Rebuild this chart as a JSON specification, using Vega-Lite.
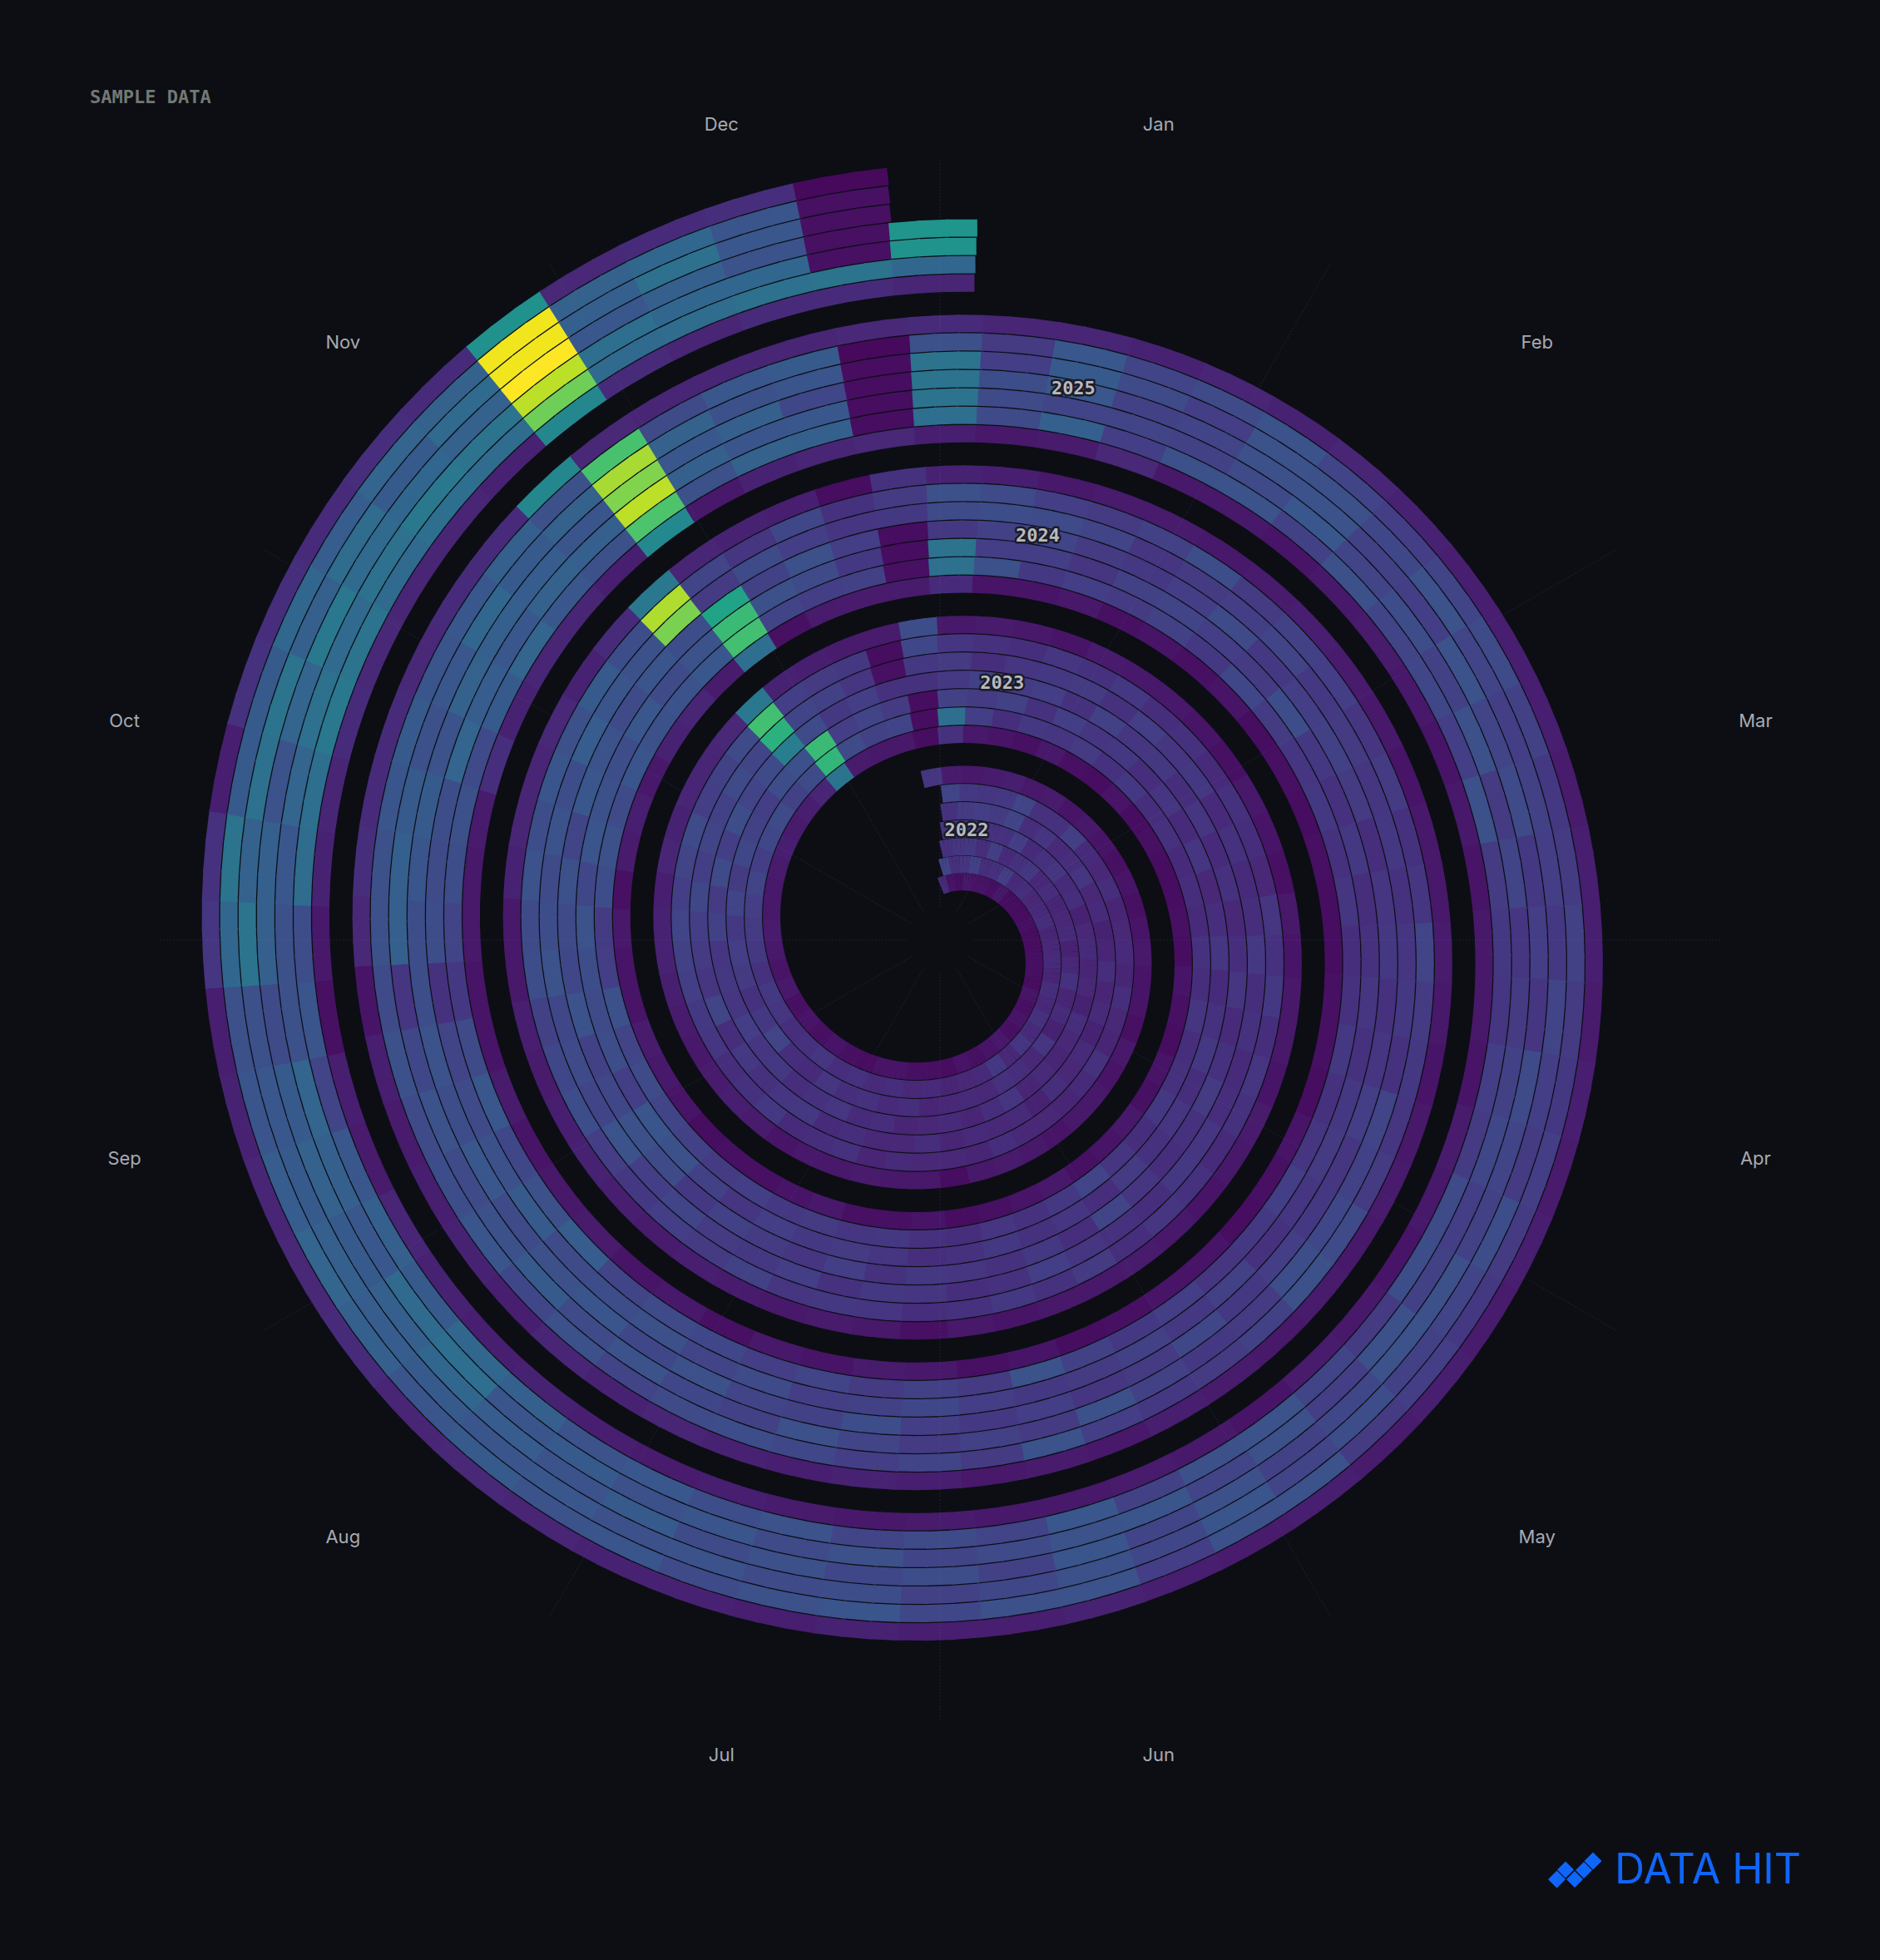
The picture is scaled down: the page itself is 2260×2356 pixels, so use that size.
{"$schema":"https://vega.github.io/schema/vega-lite/v6.json","width":2260,"height":2356,"padding":0,"autosize":"none","background":"#0c0e14","config":{"view":{"stroke":null}},
"layer":[
{"data":{"values":[
{"w":0,"d":6,"v":15},
{"w":1,"d":0,"v":12},{"w":1,"d":1,"v":20},{"w":1,"d":2,"v":14},{"w":1,"d":3,"v":15},{"w":1,"d":4,"v":14},{"w":1,"d":5,"v":20},{"w":1,"d":6,"v":7},
{"w":2,"d":0,"v":5},{"w":2,"d":1,"v":14},{"w":2,"d":2,"v":15},{"w":2,"d":3,"v":16},{"w":2,"d":4,"v":17},{"w":2,"d":5,"v":16},{"w":2,"d":6,"v":6},
{"w":3,"d":0,"v":4},{"w":3,"d":1,"v":15},{"w":3,"d":2,"v":16},{"w":3,"d":3,"v":17},{"w":3,"d":4,"v":18},{"w":3,"d":5,"v":15},{"w":3,"d":6,"v":7},
{"w":4,"d":0,"v":6},{"w":4,"d":1,"v":19},{"w":4,"d":2,"v":13},{"w":4,"d":3,"v":14},{"w":4,"d":4,"v":17},{"w":4,"d":5,"v":16},{"w":4,"d":6,"v":8},
{"w":5,"d":0,"v":5},{"w":5,"d":1,"v":13},{"w":5,"d":2,"v":18},{"w":5,"d":3,"v":14},{"w":5,"d":4,"v":20},{"w":5,"d":5,"v":20},{"w":5,"d":6,"v":6},
{"w":6,"d":0,"v":5},{"w":6,"d":1,"v":14},{"w":6,"d":2,"v":12},{"w":6,"d":3,"v":18},{"w":6,"d":4,"v":13},{"w":6,"d":5,"v":14},{"w":6,"d":6,"v":7},
{"w":7,"d":0,"v":4},{"w":7,"d":1,"v":18},{"w":7,"d":2,"v":14},{"w":7,"d":3,"v":12},{"w":7,"d":4,"v":15},{"w":7,"d":5,"v":14},{"w":7,"d":6,"v":5},
{"w":8,"d":0,"v":6},{"w":8,"d":1,"v":12},{"w":8,"d":2,"v":16},{"w":8,"d":3,"v":14},{"w":8,"d":4,"v":12},{"w":8,"d":5,"v":18},{"w":8,"d":6,"v":6},
{"w":9,"d":0,"v":3},{"w":9,"d":1,"v":13},{"w":9,"d":2,"v":11},{"w":9,"d":3,"v":15},{"w":9,"d":4,"v":13},{"w":9,"d":5,"v":12},{"w":9,"d":6,"v":5},
{"w":10,"d":0,"v":3},{"w":10,"d":1,"v":11},{"w":10,"d":2,"v":13},{"w":10,"d":3,"v":12},{"w":10,"d":4,"v":15},{"w":10,"d":5,"v":11},{"w":10,"d":6,"v":4},
{"w":11,"d":0,"v":3},{"w":11,"d":1,"v":12},{"w":11,"d":2,"v":10},{"w":11,"d":3,"v":13},{"w":11,"d":4,"v":11},{"w":11,"d":5,"v":13},{"w":11,"d":6,"v":5},
{"w":12,"d":0,"v":4},{"w":12,"d":1,"v":13},{"w":12,"d":2,"v":11},{"w":12,"d":3,"v":9},{"w":12,"d":4,"v":12},{"w":12,"d":5,"v":10},{"w":12,"d":6,"v":4},
{"w":13,"d":0,"v":3},{"w":13,"d":1,"v":10},{"w":13,"d":2,"v":12},{"w":13,"d":3,"v":11},{"w":13,"d":4,"v":9},{"w":13,"d":5,"v":11},{"w":13,"d":6,"v":5},
{"w":14,"d":0,"v":3},{"w":14,"d":1,"v":11},{"w":14,"d":2,"v":9},{"w":14,"d":3,"v":12},{"w":14,"d":4,"v":10},{"w":14,"d":5,"v":12},{"w":14,"d":6,"v":6},
{"w":15,"d":0,"v":4},{"w":15,"d":1,"v":12},{"w":15,"d":2,"v":11},{"w":15,"d":3,"v":10},{"w":15,"d":4,"v":13},{"w":15,"d":5,"v":10},{"w":15,"d":6,"v":5},
{"w":16,"d":0,"v":4},{"w":16,"d":1,"v":10},{"w":16,"d":2,"v":14},{"w":16,"d":3,"v":11},{"w":16,"d":4,"v":10},{"w":16,"d":5,"v":13},{"w":16,"d":6,"v":5},
{"w":17,"d":0,"v":3},{"w":17,"d":1,"v":13},{"w":17,"d":2,"v":10},{"w":17,"d":3,"v":9},{"w":17,"d":4,"v":12},{"w":17,"d":5,"v":11},{"w":17,"d":6,"v":4},
{"w":18,"d":0,"v":5},{"w":18,"d":1,"v":11},{"w":18,"d":2,"v":12},{"w":18,"d":3,"v":13},{"w":18,"d":4,"v":9},{"w":18,"d":5,"v":10},{"w":18,"d":6,"v":6},
{"w":19,"d":0,"v":4},{"w":19,"d":1,"v":14},{"w":19,"d":2,"v":9},{"w":19,"d":3,"v":11},{"w":19,"d":4,"v":12},{"w":19,"d":5,"v":14},{"w":19,"d":6,"v":5},
{"w":20,"d":0,"v":5},{"w":20,"d":1,"v":12},{"w":20,"d":2,"v":15},{"w":20,"d":3,"v":10},{"w":20,"d":4,"v":11},{"w":20,"d":5,"v":12},{"w":20,"d":6,"v":6},
{"w":21,"d":0,"v":4},{"w":21,"d":1,"v":15},{"w":21,"d":2,"v":11},{"w":21,"d":3,"v":12},{"w":21,"d":4,"v":13},{"w":21,"d":5,"v":10},{"w":21,"d":6,"v":6},
{"w":22,"d":0,"v":6},{"w":22,"d":1,"v":11},{"w":22,"d":2,"v":13},{"w":22,"d":3,"v":10},{"w":22,"d":4,"v":9},{"w":22,"d":5,"v":11},{"w":22,"d":6,"v":5},
{"w":23,"d":0,"v":5},{"w":23,"d":1,"v":16},{"w":23,"d":2,"v":14},{"w":23,"d":3,"v":15},{"w":23,"d":4,"v":12},{"w":23,"d":5,"v":11},{"w":23,"d":6,"v":6},
{"w":24,"d":0,"v":4},{"w":24,"d":1,"v":12},{"w":24,"d":2,"v":11},{"w":24,"d":3,"v":13},{"w":24,"d":4,"v":11},{"w":24,"d":5,"v":13},{"w":24,"d":6,"v":7},
{"w":25,"d":0,"v":5},{"w":25,"d":1,"v":11},{"w":25,"d":2,"v":12},{"w":25,"d":3,"v":10},{"w":25,"d":4,"v":12},{"w":25,"d":5,"v":10},{"w":25,"d":6,"v":6},
{"w":26,"d":0,"v":3},{"w":26,"d":1,"v":10},{"w":26,"d":2,"v":11},{"w":26,"d":3,"v":12},{"w":26,"d":4,"v":10},{"w":26,"d":5,"v":11},{"w":26,"d":6,"v":3},
{"w":27,"d":0,"v":4},{"w":27,"d":1,"v":12},{"w":27,"d":2,"v":10},{"w":27,"d":3,"v":11},{"w":27,"d":4,"v":13},{"w":27,"d":5,"v":11},{"w":27,"d":6,"v":6},
{"w":28,"d":0,"v":4},{"w":28,"d":1,"v":11},{"w":28,"d":2,"v":13},{"w":28,"d":3,"v":10},{"w":28,"d":4,"v":11},{"w":28,"d":5,"v":12},{"w":28,"d":6,"v":6},
{"w":29,"d":0,"v":5},{"w":29,"d":1,"v":13},{"w":29,"d":2,"v":12},{"w":29,"d":3,"v":13},{"w":29,"d":4,"v":11},{"w":29,"d":5,"v":10},{"w":29,"d":6,"v":7},
{"w":30,"d":0,"v":5},{"w":30,"d":1,"v":12},{"w":30,"d":2,"v":14},{"w":30,"d":3,"v":12},{"w":30,"d":4,"v":13},{"w":30,"d":5,"v":14},{"w":30,"d":6,"v":6},
{"w":31,"d":0,"v":3},{"w":31,"d":1,"v":14},{"w":31,"d":2,"v":13},{"w":31,"d":3,"v":15},{"w":31,"d":4,"v":12},{"w":31,"d":5,"v":13},{"w":31,"d":6,"v":6},
{"w":32,"d":0,"v":4},{"w":32,"d":1,"v":13},{"w":32,"d":2,"v":15},{"w":32,"d":3,"v":14},{"w":32,"d":4,"v":16},{"w":32,"d":5,"v":12},{"w":32,"d":6,"v":5},
{"w":33,"d":0,"v":5},{"w":33,"d":1,"v":15},{"w":33,"d":2,"v":12},{"w":33,"d":3,"v":13},{"w":33,"d":4,"v":15},{"w":33,"d":5,"v":16},{"w":33,"d":6,"v":7},
{"w":34,"d":0,"v":4},{"w":34,"d":1,"v":14},{"w":34,"d":2,"v":13},{"w":34,"d":3,"v":16},{"w":34,"d":4,"v":14},{"w":34,"d":5,"v":14},{"w":34,"d":6,"v":8},
{"w":35,"d":0,"v":5},{"w":35,"d":1,"v":13},{"w":35,"d":2,"v":20},{"w":35,"d":3,"v":15},{"w":35,"d":4,"v":16},{"w":35,"d":5,"v":13},{"w":35,"d":6,"v":7},
{"w":36,"d":0,"v":4},{"w":36,"d":1,"v":15},{"w":36,"d":2,"v":16},{"w":36,"d":3,"v":18},{"w":36,"d":4,"v":13},{"w":36,"d":5,"v":15},{"w":36,"d":6,"v":6},
{"w":37,"d":0,"v":6},{"w":37,"d":1,"v":16},{"w":37,"d":2,"v":14},{"w":37,"d":3,"v":15},{"w":37,"d":4,"v":20},{"w":37,"d":5,"v":16},{"w":37,"d":6,"v":7},
{"w":38,"d":0,"v":5},{"w":38,"d":1,"v":14},{"w":38,"d":2,"v":17},{"w":38,"d":3,"v":16},{"w":38,"d":4,"v":15},{"w":38,"d":5,"v":18},{"w":38,"d":6,"v":8},
{"w":39,"d":0,"v":6},{"w":39,"d":1,"v":16},{"w":39,"d":2,"v":18},{"w":39,"d":3,"v":15},{"w":39,"d":4,"v":17},{"w":39,"d":5,"v":19},{"w":39,"d":6,"v":9},
{"w":40,"d":0,"v":7},{"w":40,"d":1,"v":17},{"w":40,"d":2,"v":16},{"w":40,"d":3,"v":19},{"w":40,"d":4,"v":18},{"w":40,"d":5,"v":20},{"w":40,"d":6,"v":9},
{"w":41,"d":0,"v":6},{"w":41,"d":1,"v":18},{"w":41,"d":2,"v":20},{"w":41,"d":3,"v":17},{"w":41,"d":4,"v":21},{"w":41,"d":5,"v":18},{"w":41,"d":6,"v":8},
{"w":42,"d":0,"v":6},{"w":42,"d":1,"v":20},{"w":42,"d":2,"v":17},{"w":42,"d":3,"v":22},{"w":42,"d":4,"v":18},{"w":42,"d":5,"v":20},{"w":42,"d":6,"v":10},
{"w":43,"d":0,"v":7},{"w":43,"d":1,"v":18},{"w":43,"d":2,"v":21},{"w":43,"d":3,"v":18},{"w":43,"d":4,"v":20},{"w":43,"d":5,"v":22},{"w":43,"d":6,"v":9},
{"w":44,"d":0,"v":8},{"w":44,"d":1,"v":21},{"w":44,"d":2,"v":19},{"w":44,"d":3,"v":23},{"w":44,"d":4,"v":19},{"w":44,"d":5,"v":18},{"w":44,"d":6,"v":10},
{"w":45,"d":0,"v":7},{"w":45,"d":1,"v":22},{"w":45,"d":2,"v":18},{"w":45,"d":3,"v":20},{"w":45,"d":4,"v":22},{"w":45,"d":5,"v":19},{"w":45,"d":6,"v":10},
{"w":46,"d":0,"v":8},{"w":46,"d":1,"v":19},{"w":46,"d":2,"v":23},{"w":46,"d":3,"v":22},{"w":46,"d":4,"v":20},{"w":46,"d":5,"v":22},{"w":46,"d":6,"v":11},
{"w":47,"d":0,"v":10},{"w":47,"d":1,"v":22},{"w":47,"d":2,"v":24},{"w":47,"d":3,"v":42},{"w":47,"d":4,"v":64},{"w":47,"d":5,"v":70},{"w":47,"d":6,"v":40},
{"w":48,"d":0,"v":38},{"w":48,"d":1,"v":66},{"w":48,"d":2,"v":68},{"w":48,"d":3,"v":22},{"w":48,"d":4,"v":20},{"w":48,"d":5,"v":18},{"w":48,"d":6,"v":9},
{"w":49,"d":0,"v":7},{"w":49,"d":1,"v":22},{"w":49,"d":2,"v":18},{"w":49,"d":3,"v":16},{"w":49,"d":4,"v":19},{"w":49,"d":5,"v":17},{"w":49,"d":6,"v":8},
{"w":50,"d":0,"v":6},{"w":50,"d":1,"v":19},{"w":50,"d":2,"v":20},{"w":50,"d":3,"v":18},{"w":50,"d":4,"v":15},{"w":50,"d":5,"v":16},{"w":50,"d":6,"v":7},
{"w":51,"d":0,"v":6},{"w":51,"d":1,"v":20},{"w":51,"d":2,"v":17},{"w":51,"d":3,"v":14},{"w":51,"d":4,"v":4},{"w":51,"d":5,"v":3},{"w":51,"d":6,"v":7},
{"w":52,"d":0,"v":3},{"w":52,"d":1,"v":3},{"w":52,"d":2,"v":3},{"w":52,"d":3,"v":14},{"w":52,"d":4,"v":16},{"w":52,"d":5,"v":21},{"w":52,"d":6,"v":23},
{"w":53,"d":0,"v":14},{"w":53,"d":1,"v":36},{"w":53,"d":2,"v":19},{"w":53,"d":3,"v":16},{"w":53,"d":4,"v":17},{"w":53,"d":5,"v":15},{"w":53,"d":6,"v":6},
{"w":54,"d":0,"v":6},{"w":54,"d":1,"v":18},{"w":54,"d":2,"v":17},{"w":54,"d":3,"v":19},{"w":54,"d":4,"v":13},{"w":54,"d":5,"v":14},{"w":54,"d":6,"v":7},
{"w":55,"d":0,"v":5},{"w":55,"d":1,"v":13},{"w":55,"d":2,"v":19},{"w":55,"d":3,"v":17},{"w":55,"d":4,"v":15},{"w":55,"d":5,"v":13},{"w":55,"d":6,"v":6},
{"w":56,"d":0,"v":4},{"w":56,"d":1,"v":16},{"w":56,"d":2,"v":14},{"w":56,"d":3,"v":18},{"w":56,"d":4,"v":16},{"w":56,"d":5,"v":15},{"w":56,"d":6,"v":5},
{"w":57,"d":0,"v":6},{"w":57,"d":1,"v":15},{"w":57,"d":2,"v":18},{"w":57,"d":3,"v":14},{"w":57,"d":4,"v":17},{"w":57,"d":5,"v":14},{"w":57,"d":6,"v":7},
{"w":58,"d":0,"v":4},{"w":58,"d":1,"v":17},{"w":58,"d":2,"v":15},{"w":58,"d":3,"v":19},{"w":58,"d":4,"v":14},{"w":58,"d":5,"v":16},{"w":58,"d":6,"v":6},
{"w":59,"d":0,"v":3},{"w":59,"d":1,"v":14},{"w":59,"d":2,"v":16},{"w":59,"d":3,"v":15},{"w":59,"d":4,"v":18},{"w":59,"d":5,"v":13},{"w":59,"d":6,"v":6},
{"w":60,"d":0,"v":5},{"w":60,"d":1,"v":16},{"w":60,"d":2,"v":13},{"w":60,"d":3,"v":16},{"w":60,"d":4,"v":15},{"w":60,"d":5,"v":14},{"w":60,"d":6,"v":5},
{"w":61,"d":0,"v":3},{"w":61,"d":1,"v":13},{"w":61,"d":2,"v":15},{"w":61,"d":3,"v":13},{"w":61,"d":4,"v":16},{"w":61,"d":5,"v":12},{"w":61,"d":6,"v":4},
{"w":62,"d":0,"v":4},{"w":62,"d":1,"v":14},{"w":62,"d":2,"v":12},{"w":62,"d":3,"v":15},{"w":62,"d":4,"v":12},{"w":62,"d":5,"v":14},{"w":62,"d":6,"v":6},
{"w":63,"d":0,"v":3},{"w":63,"d":1,"v":12},{"w":63,"d":2,"v":15},{"w":63,"d":3,"v":12},{"w":63,"d":4,"v":14},{"w":63,"d":5,"v":13},{"w":63,"d":6,"v":5},
{"w":64,"d":0,"v":3},{"w":64,"d":1,"v":13},{"w":64,"d":2,"v":11},{"w":64,"d":3,"v":14},{"w":64,"d":4,"v":12},{"w":64,"d":5,"v":11},{"w":64,"d":6,"v":4},
{"w":65,"d":0,"v":4},{"w":65,"d":1,"v":12},{"w":65,"d":2,"v":13},{"w":65,"d":3,"v":11},{"w":65,"d":4,"v":13},{"w":65,"d":5,"v":15},{"w":65,"d":6,"v":6},
{"w":66,"d":0,"v":3},{"w":66,"d":1,"v":14},{"w":66,"d":2,"v":15},{"w":66,"d":3,"v":13},{"w":66,"d":4,"v":16},{"w":66,"d":5,"v":14},{"w":66,"d":6,"v":5},
{"w":67,"d":0,"v":5},{"w":67,"d":1,"v":13},{"w":67,"d":2,"v":12},{"w":67,"d":3,"v":15},{"w":67,"d":4,"v":13},{"w":67,"d":5,"v":16},{"w":67,"d":6,"v":6},
{"w":68,"d":0,"v":4},{"w":68,"d":1,"v":15},{"w":68,"d":2,"v":14},{"w":68,"d":3,"v":12},{"w":68,"d":4,"v":14},{"w":68,"d":5,"v":13},{"w":68,"d":6,"v":6},
{"w":69,"d":0,"v":3},{"w":69,"d":1,"v":13},{"w":69,"d":2,"v":16},{"w":69,"d":3,"v":14},{"w":69,"d":4,"v":12},{"w":69,"d":5,"v":15},{"w":69,"d":6,"v":5},
{"w":70,"d":0,"v":5},{"w":70,"d":1,"v":14},{"w":70,"d":2,"v":13},{"w":70,"d":3,"v":17},{"w":70,"d":4,"v":13},{"w":70,"d":5,"v":14},{"w":70,"d":6,"v":7},
{"w":71,"d":0,"v":4},{"w":71,"d":1,"v":16},{"w":71,"d":2,"v":15},{"w":71,"d":3,"v":14},{"w":71,"d":4,"v":15},{"w":71,"d":5,"v":12},{"w":71,"d":6,"v":6},
{"w":72,"d":0,"v":6},{"w":72,"d":1,"v":13},{"w":72,"d":2,"v":14},{"w":72,"d":3,"v":13},{"w":72,"d":4,"v":16},{"w":72,"d":5,"v":14},{"w":72,"d":6,"v":5},
{"w":73,"d":0,"v":5},{"w":73,"d":1,"v":15},{"w":73,"d":2,"v":17},{"w":73,"d":3,"v":15},{"w":73,"d":4,"v":13},{"w":73,"d":5,"v":15},{"w":73,"d":6,"v":6},
{"w":74,"d":0,"v":4},{"w":74,"d":1,"v":20},{"w":74,"d":2,"v":13},{"w":74,"d":3,"v":20},{"w":74,"d":4,"v":14},{"w":74,"d":5,"v":13},{"w":74,"d":6,"v":7},
{"w":75,"d":0,"v":6},{"w":75,"d":1,"v":16},{"w":75,"d":2,"v":15},{"w":75,"d":3,"v":13},{"w":75,"d":4,"v":15},{"w":75,"d":5,"v":17},{"w":75,"d":6,"v":6},
{"w":76,"d":0,"v":5},{"w":76,"d":1,"v":14},{"w":76,"d":2,"v":14},{"w":76,"d":3,"v":16},{"w":76,"d":4,"v":18},{"w":76,"d":5,"v":14},{"w":76,"d":6,"v":6},
{"w":77,"d":0,"v":4},{"w":77,"d":1,"v":15},{"w":77,"d":2,"v":16},{"w":77,"d":3,"v":14},{"w":77,"d":4,"v":14},{"w":77,"d":5,"v":16},{"w":77,"d":6,"v":5},
{"w":78,"d":0,"v":3},{"w":78,"d":1,"v":13},{"w":78,"d":2,"v":14},{"w":78,"d":3,"v":15},{"w":78,"d":4,"v":13},{"w":78,"d":5,"v":14},{"w":78,"d":6,"v":6},
{"w":79,"d":0,"v":5},{"w":79,"d":1,"v":14},{"w":79,"d":2,"v":13},{"w":79,"d":3,"v":16},{"w":79,"d":4,"v":15},{"w":79,"d":5,"v":13},{"w":79,"d":6,"v":4},
{"w":80,"d":0,"v":4},{"w":80,"d":1,"v":16},{"w":80,"d":2,"v":15},{"w":80,"d":3,"v":14},{"w":80,"d":4,"v":16},{"w":80,"d":5,"v":15},{"w":80,"d":6,"v":6},
{"w":81,"d":0,"v":4},{"w":81,"d":1,"v":15},{"w":81,"d":2,"v":17},{"w":81,"d":3,"v":18},{"w":81,"d":4,"v":14},{"w":81,"d":5,"v":16},{"w":81,"d":6,"v":7},
{"w":82,"d":0,"v":6},{"w":82,"d":1,"v":17},{"w":82,"d":2,"v":16},{"w":82,"d":3,"v":15},{"w":82,"d":4,"v":18},{"w":82,"d":5,"v":15},{"w":82,"d":6,"v":6},
{"w":83,"d":0,"v":5},{"w":83,"d":1,"v":16},{"w":83,"d":2,"v":18},{"w":83,"d":3,"v":17},{"w":83,"d":4,"v":16},{"w":83,"d":5,"v":19},{"w":83,"d":6,"v":7},
{"w":84,"d":0,"v":4},{"w":84,"d":1,"v":18},{"w":84,"d":2,"v":15},{"w":84,"d":3,"v":19},{"w":84,"d":4,"v":17},{"w":84,"d":5,"v":17},{"w":84,"d":6,"v":8},
{"w":85,"d":0,"v":4},{"w":85,"d":1,"v":17},{"w":85,"d":2,"v":19},{"w":85,"d":3,"v":16},{"w":85,"d":4,"v":20},{"w":85,"d":5,"v":18},{"w":85,"d":6,"v":7},
{"w":86,"d":0,"v":3},{"w":86,"d":1,"v":19},{"w":86,"d":2,"v":24},{"w":86,"d":3,"v":22},{"w":86,"d":4,"v":18},{"w":86,"d":5,"v":16},{"w":86,"d":6,"v":8},
{"w":87,"d":0,"v":5},{"w":87,"d":1,"v":20},{"w":87,"d":2,"v":26},{"w":87,"d":3,"v":24},{"w":87,"d":4,"v":25},{"w":87,"d":5,"v":18},{"w":87,"d":6,"v":9},
{"w":88,"d":0,"v":6},{"w":88,"d":1,"v":22},{"w":88,"d":2,"v":18},{"w":88,"d":3,"v":21},{"w":88,"d":4,"v":20},{"w":88,"d":5,"v":23},{"w":88,"d":6,"v":8},
{"w":89,"d":0,"v":7},{"w":89,"d":1,"v":20},{"w":89,"d":2,"v":23},{"w":89,"d":3,"v":19},{"w":89,"d":4,"v":22},{"w":89,"d":5,"v":21},{"w":89,"d":6,"v":7},
{"w":90,"d":0,"v":5},{"w":90,"d":1,"v":24},{"w":90,"d":2,"v":22},{"w":90,"d":3,"v":25},{"w":90,"d":4,"v":21},{"w":90,"d":5,"v":19},{"w":90,"d":6,"v":8},
{"w":91,"d":0,"v":5},{"w":91,"d":1,"v":18},{"w":91,"d":2,"v":23},{"w":91,"d":3,"v":21},{"w":91,"d":4,"v":25},{"w":91,"d":5,"v":23},{"w":91,"d":6,"v":6},
{"w":92,"d":0,"v":6},{"w":92,"d":1,"v":17},{"w":92,"d":2,"v":25},{"w":92,"d":3,"v":22},{"w":92,"d":4,"v":23},{"w":92,"d":5,"v":22},{"w":92,"d":6,"v":6},
{"w":93,"d":0,"v":4},{"w":93,"d":1,"v":23},{"w":93,"d":2,"v":21},{"w":93,"d":3,"v":24},{"w":93,"d":4,"v":22},{"w":93,"d":5,"v":25},{"w":93,"d":6,"v":9},
{"w":94,"d":0,"v":7},{"w":94,"d":1,"v":24},{"w":94,"d":2,"v":26},{"w":94,"d":3,"v":20},{"w":94,"d":4,"v":25},{"w":94,"d":5,"v":23},{"w":94,"d":6,"v":10},
{"w":95,"d":0,"v":8},{"w":95,"d":1,"v":22},{"w":95,"d":2,"v":24},{"w":95,"d":3,"v":27},{"w":95,"d":4,"v":23},{"w":95,"d":5,"v":26},{"w":95,"d":6,"v":10},
{"w":96,"d":0,"v":6},{"w":96,"d":1,"v":26},{"w":96,"d":2,"v":23},{"w":96,"d":3,"v":25},{"w":96,"d":4,"v":29},{"w":96,"d":5,"v":24},{"w":96,"d":6,"v":11},
{"w":97,"d":0,"v":9},{"w":97,"d":1,"v":24},{"w":97,"d":2,"v":27},{"w":97,"d":3,"v":22},{"w":97,"d":4,"v":26},{"w":97,"d":5,"v":28},{"w":97,"d":6,"v":9},
{"w":98,"d":0,"v":10},{"w":98,"d":1,"v":25},{"w":98,"d":2,"v":22},{"w":98,"d":3,"v":26},{"w":98,"d":4,"v":24},{"w":98,"d":5,"v":23},{"w":98,"d":6,"v":12},
{"w":99,"d":0,"v":7},{"w":99,"d":1,"v":27},{"w":99,"d":2,"v":25},{"w":99,"d":3,"v":23},{"w":99,"d":4,"v":80},{"w":99,"d":5,"v":88},{"w":99,"d":6,"v":40},
{"w":100,"d":0,"v":36},{"w":100,"d":1,"v":70},{"w":100,"d":2,"v":68},{"w":100,"d":3,"v":58},{"w":100,"d":4,"v":17},{"w":100,"d":5,"v":20},{"w":100,"d":6,"v":10},
{"w":101,"d":0,"v":4},{"w":101,"d":1,"v":20},{"w":101,"d":2,"v":24},{"w":101,"d":3,"v":19},{"w":101,"d":4,"v":22},{"w":101,"d":5,"v":15},{"w":101,"d":6,"v":9},
{"w":102,"d":0,"v":7},{"w":102,"d":1,"v":18},{"w":102,"d":2,"v":22},{"w":102,"d":3,"v":24},{"w":102,"d":4,"v":18},{"w":102,"d":5,"v":21},{"w":102,"d":6,"v":8},
{"w":103,"d":0,"v":7},{"w":103,"d":1,"v":19},{"w":103,"d":2,"v":16},{"w":103,"d":3,"v":18},{"w":103,"d":4,"v":15},{"w":103,"d":5,"v":14},{"w":103,"d":6,"v":3},
{"w":104,"d":0,"v":7},{"w":104,"d":1,"v":4},{"w":104,"d":2,"v":3},{"w":104,"d":3,"v":3},{"w":104,"d":4,"v":16},{"w":104,"d":5,"v":17},{"w":104,"d":6,"v":14},
{"w":105,"d":0,"v":12},{"w":105,"d":1,"v":37},{"w":105,"d":2,"v":38},{"w":105,"d":3,"v":16},{"w":105,"d":4,"v":22},{"w":105,"d":5,"v":24},{"w":105,"d":6,"v":9},
{"w":106,"d":0,"v":5},{"w":106,"d":1,"v":24},{"w":106,"d":2,"v":18},{"w":106,"d":3,"v":19},{"w":106,"d":4,"v":23},{"w":106,"d":5,"v":22},{"w":106,"d":6,"v":8},
{"w":107,"d":0,"v":5},{"w":107,"d":1,"v":16},{"w":107,"d":2,"v":18},{"w":107,"d":3,"v":20},{"w":107,"d":4,"v":22},{"w":107,"d":5,"v":18},{"w":107,"d":6,"v":6},
{"w":108,"d":0,"v":6},{"w":108,"d":1,"v":18},{"w":108,"d":2,"v":15},{"w":108,"d":3,"v":17},{"w":108,"d":4,"v":20},{"w":108,"d":5,"v":17},{"w":108,"d":6,"v":7},
{"w":109,"d":0,"v":4},{"w":109,"d":1,"v":17},{"w":109,"d":2,"v":19},{"w":109,"d":3,"v":16},{"w":109,"d":4,"v":15},{"w":109,"d":5,"v":19},{"w":109,"d":6,"v":7},
{"w":110,"d":0,"v":5},{"w":110,"d":1,"v":19},{"w":110,"d":2,"v":20},{"w":110,"d":3,"v":18},{"w":110,"d":4,"v":17},{"w":110,"d":5,"v":23},{"w":110,"d":6,"v":6},
{"w":111,"d":0,"v":4},{"w":111,"d":1,"v":16},{"w":111,"d":2,"v":18},{"w":111,"d":3,"v":22},{"w":111,"d":4,"v":18},{"w":111,"d":5,"v":17},{"w":111,"d":6,"v":7},
{"w":112,"d":0,"v":5},{"w":112,"d":1,"v":21},{"w":112,"d":2,"v":17},{"w":112,"d":3,"v":16},{"w":112,"d":4,"v":20},{"w":112,"d":5,"v":19},{"w":112,"d":6,"v":8},
{"w":113,"d":0,"v":3},{"w":113,"d":1,"v":17},{"w":113,"d":2,"v":23},{"w":113,"d":3,"v":18},{"w":113,"d":4,"v":16},{"w":113,"d":5,"v":18},{"w":113,"d":6,"v":7},
{"w":114,"d":0,"v":4},{"w":114,"d":1,"v":15},{"w":114,"d":2,"v":16},{"w":114,"d":3,"v":19},{"w":114,"d":4,"v":17},{"w":114,"d":5,"v":15},{"w":114,"d":6,"v":6},
{"w":115,"d":0,"v":3},{"w":115,"d":1,"v":16},{"w":115,"d":2,"v":14},{"w":115,"d":3,"v":17},{"w":115,"d":4,"v":15},{"w":115,"d":5,"v":17},{"w":115,"d":6,"v":5},
{"w":116,"d":0,"v":4},{"w":116,"d":1,"v":14},{"w":116,"d":2,"v":16},{"w":116,"d":3,"v":13},{"w":116,"d":4,"v":16},{"w":116,"d":5,"v":14},{"w":116,"d":6,"v":6},
{"w":117,"d":0,"v":3},{"w":117,"d":1,"v":15},{"w":117,"d":2,"v":13},{"w":117,"d":3,"v":15},{"w":117,"d":4,"v":14},{"w":117,"d":5,"v":15},{"w":117,"d":6,"v":6},
{"w":118,"d":0,"v":3},{"w":118,"d":1,"v":13},{"w":118,"d":2,"v":14},{"w":118,"d":3,"v":16},{"w":118,"d":4,"v":15},{"w":118,"d":5,"v":20},{"w":118,"d":6,"v":7},
{"w":119,"d":0,"v":4},{"w":119,"d":1,"v":14},{"w":119,"d":2,"v":15},{"w":119,"d":3,"v":14},{"w":119,"d":4,"v":16},{"w":119,"d":5,"v":17},{"w":119,"d":6,"v":6},
{"w":120,"d":0,"v":4},{"w":120,"d":1,"v":16},{"w":120,"d":2,"v":14},{"w":120,"d":3,"v":15},{"w":120,"d":4,"v":14},{"w":120,"d":5,"v":16},{"w":120,"d":6,"v":5},
{"w":121,"d":0,"v":3},{"w":121,"d":1,"v":14},{"w":121,"d":2,"v":16},{"w":121,"d":3,"v":18},{"w":121,"d":4,"v":20},{"w":121,"d":5,"v":15},{"w":121,"d":6,"v":6},
{"w":122,"d":0,"v":5},{"w":122,"d":1,"v":15},{"w":122,"d":2,"v":17},{"w":122,"d":3,"v":15},{"w":122,"d":4,"v":19},{"w":122,"d":5,"v":17},{"w":122,"d":6,"v":7},
{"w":123,"d":0,"v":4},{"w":123,"d":1,"v":18},{"w":123,"d":2,"v":15},{"w":123,"d":3,"v":16},{"w":123,"d":4,"v":21},{"w":123,"d":5,"v":22},{"w":123,"d":6,"v":6},
{"w":124,"d":0,"v":3},{"w":124,"d":1,"v":16},{"w":124,"d":2,"v":14},{"w":124,"d":3,"v":18},{"w":124,"d":4,"v":23},{"w":124,"d":5,"v":24},{"w":124,"d":6,"v":7},
{"w":125,"d":0,"v":5},{"w":125,"d":1,"v":15},{"w":125,"d":2,"v":19},{"w":125,"d":3,"v":16},{"w":125,"d":4,"v":17},{"w":125,"d":5,"v":19},{"w":125,"d":6,"v":6},
{"w":126,"d":0,"v":5},{"w":126,"d":1,"v":18},{"w":126,"d":2,"v":16},{"w":126,"d":3,"v":21},{"w":126,"d":4,"v":16},{"w":126,"d":5,"v":17},{"w":126,"d":6,"v":7},
{"w":127,"d":0,"v":4},{"w":127,"d":1,"v":16},{"w":127,"d":2,"v":19},{"w":127,"d":3,"v":17},{"w":127,"d":4,"v":19},{"w":127,"d":5,"v":16},{"w":127,"d":6,"v":8},
{"w":128,"d":0,"v":3},{"w":128,"d":1,"v":19},{"w":128,"d":2,"v":17},{"w":128,"d":3,"v":15},{"w":128,"d":4,"v":24},{"w":128,"d":5,"v":18},{"w":128,"d":6,"v":6},
{"w":129,"d":0,"v":5},{"w":129,"d":1,"v":25},{"w":129,"d":2,"v":16},{"w":129,"d":3,"v":18},{"w":129,"d":4,"v":17},{"w":129,"d":5,"v":25},{"w":129,"d":6,"v":7},
{"w":130,"d":0,"v":4},{"w":130,"d":1,"v":17},{"w":130,"d":2,"v":18},{"w":130,"d":3,"v":16},{"w":130,"d":4,"v":19},{"w":130,"d":5,"v":17},{"w":130,"d":6,"v":6},
{"w":131,"d":0,"v":6},{"w":131,"d":1,"v":19},{"w":131,"d":2,"v":21},{"w":131,"d":3,"v":18},{"w":131,"d":4,"v":17},{"w":131,"d":5,"v":20},{"w":131,"d":6,"v":8},
{"w":132,"d":0,"v":7},{"w":132,"d":1,"v":17},{"w":132,"d":2,"v":19},{"w":132,"d":3,"v":23},{"w":132,"d":4,"v":20},{"w":132,"d":5,"v":18},{"w":132,"d":6,"v":9},
{"w":133,"d":0,"v":5},{"w":133,"d":1,"v":20},{"w":133,"d":2,"v":18},{"w":133,"d":3,"v":19},{"w":133,"d":4,"v":24},{"w":133,"d":5,"v":21},{"w":133,"d":6,"v":8},
{"w":134,"d":0,"v":6},{"w":134,"d":1,"v":18},{"w":134,"d":2,"v":22},{"w":134,"d":3,"v":20},{"w":134,"d":4,"v":19},{"w":134,"d":5,"v":23},{"w":134,"d":6,"v":9},
{"w":135,"d":0,"v":4},{"w":135,"d":1,"v":21},{"w":135,"d":2,"v":20},{"w":135,"d":3,"v":24},{"w":135,"d":4,"v":21},{"w":135,"d":5,"v":22},{"w":135,"d":6,"v":10},
{"w":136,"d":0,"v":6},{"w":136,"d":1,"v":22},{"w":136,"d":2,"v":24},{"w":136,"d":3,"v":21},{"w":136,"d":4,"v":25},{"w":136,"d":5,"v":20},{"w":136,"d":6,"v":9},
{"w":137,"d":0,"v":5},{"w":137,"d":1,"v":20},{"w":137,"d":2,"v":23},{"w":137,"d":3,"v":26},{"w":137,"d":4,"v":22},{"w":137,"d":5,"v":24},{"w":137,"d":6,"v":10},
{"w":138,"d":0,"v":7},{"w":138,"d":1,"v":29},{"w":138,"d":2,"v":22},{"w":138,"d":3,"v":24},{"w":138,"d":4,"v":28},{"w":138,"d":5,"v":21},{"w":138,"d":6,"v":8},
{"w":139,"d":0,"v":6},{"w":139,"d":1,"v":24},{"w":139,"d":2,"v":28},{"w":139,"d":3,"v":22},{"w":139,"d":4,"v":24},{"w":139,"d":5,"v":26},{"w":139,"d":6,"v":9},
{"w":140,"d":0,"v":5},{"w":140,"d":1,"v":21},{"w":140,"d":2,"v":24},{"w":140,"d":3,"v":27},{"w":140,"d":4,"v":22},{"w":140,"d":5,"v":23},{"w":140,"d":6,"v":8},
{"w":141,"d":0,"v":7},{"w":141,"d":1,"v":27},{"w":141,"d":2,"v":22},{"w":141,"d":3,"v":23},{"w":141,"d":4,"v":25},{"w":141,"d":5,"v":22},{"w":141,"d":6,"v":7},
{"w":142,"d":0,"v":5},{"w":142,"d":1,"v":22},{"w":142,"d":2,"v":20},{"w":142,"d":3,"v":25},{"w":142,"d":4,"v":21},{"w":142,"d":5,"v":24},{"w":142,"d":6,"v":8},
{"w":143,"d":0,"v":5},{"w":143,"d":1,"v":16},{"w":143,"d":2,"v":14},{"w":143,"d":3,"v":23},{"w":143,"d":4,"v":15},{"w":143,"d":5,"v":22},{"w":143,"d":6,"v":5},
{"w":144,"d":0,"v":6},{"w":144,"d":1,"v":20},{"w":144,"d":2,"v":23},{"w":144,"d":3,"v":23},{"w":144,"d":4,"v":30},{"w":144,"d":5,"v":24},{"w":144,"d":6,"v":11},
{"w":145,"d":0,"v":6},{"w":145,"d":1,"v":23},{"w":145,"d":2,"v":22},{"w":145,"d":3,"v":26},{"w":145,"d":4,"v":30},{"w":145,"d":5,"v":24},{"w":145,"d":6,"v":13},
{"w":146,"d":0,"v":7},{"w":146,"d":1,"v":24},{"w":146,"d":2,"v":23},{"w":146,"d":3,"v":28},{"w":146,"d":4,"v":28},{"w":146,"d":5,"v":26},{"w":146,"d":6,"v":12},
{"w":147,"d":0,"v":13},{"w":147,"d":1,"v":22},{"w":147,"d":2,"v":32},{"w":147,"d":3,"v":25},{"w":147,"d":4,"v":24},{"w":147,"d":5,"v":28},{"w":147,"d":6,"v":12},
{"w":148,"d":0,"v":9},{"w":148,"d":1,"v":28},{"w":148,"d":2,"v":29},{"w":148,"d":3,"v":31},{"w":148,"d":4,"v":27},{"w":148,"d":5,"v":26},{"w":148,"d":6,"v":11},
{"w":149,"d":0,"v":10},{"w":149,"d":1,"v":32},{"w":149,"d":2,"v":27},{"w":149,"d":3,"v":30},{"w":149,"d":4,"v":33},{"w":149,"d":5,"v":27},{"w":149,"d":6,"v":12},
{"w":150,"d":0,"v":10},{"w":150,"d":1,"v":27},{"w":150,"d":2,"v":31},{"w":150,"d":3,"v":29},{"w":150,"d":4,"v":28},{"w":150,"d":5,"v":30},{"w":150,"d":6,"v":12},
{"w":151,"d":0,"v":8},{"w":151,"d":1,"v":24},{"w":151,"d":2,"v":30},{"w":151,"d":3,"v":26},{"w":151,"d":4,"v":31},{"w":151,"d":5,"v":24},{"w":151,"d":6,"v":46},
{"w":152,"d":0,"v":47},{"w":152,"d":1,"v":72},{"w":152,"d":2,"v":90},{"w":152,"d":3,"v":81},{"w":152,"d":4,"v":87},{"w":152,"d":5,"v":71},{"w":152,"d":6,"v":11},
{"w":153,"d":0,"v":6},{"w":153,"d":1,"v":24},{"w":153,"d":2,"v":30},{"w":153,"d":3,"v":27},{"w":153,"d":4,"v":31},{"w":153,"d":5,"v":22},{"w":153,"d":6,"v":10},
{"w":154,"d":0,"v":9},{"w":154,"d":1,"v":31},{"w":154,"d":2,"v":26},{"w":154,"d":3,"v":30},{"w":154,"d":4,"v":24},{"w":154,"d":5,"v":27},{"w":154,"d":6,"v":10},
{"w":155,"d":0,"v":10},{"w":155,"d":1,"v":30},{"w":155,"d":2,"v":27},{"w":155,"d":3,"v":21},{"w":155,"d":4,"v":26},{"w":155,"d":5,"v":28},{"w":155,"d":6,"v":10},
{"w":156,"d":0,"v":11},{"w":156,"d":1,"v":3},{"w":156,"d":2,"v":3},{"w":156,"d":3,"v":3},{"w":156,"d":4,"v":3},{"w":156,"d":5,"v":2},{"w":156,"d":6,"v":11},
{"w":157,"d":0,"v":8},{"w":157,"d":1,"v":36},{"w":157,"d":2,"v":38},{"w":157,"d":3,"v":38},{"w":157,"d":4,"v":38},{"w":157,"d":5,"v":24},{"w":157,"d":6,"v":12},
{"w":158,"d":0,"v":6},{"w":158,"d":1,"v":22},{"w":158,"d":2,"v":22},{"w":158,"d":3,"v":23},{"w":158,"d":4,"v":18},{"w":158,"d":5,"v":17},{"w":158,"d":6,"v":10},
{"w":159,"d":0,"v":7},{"w":159,"d":1,"v":30},{"w":159,"d":2,"v":20},{"w":159,"d":3,"v":27},{"w":159,"d":4,"v":28},{"w":159,"d":5,"v":27},{"w":159,"d":6,"v":10},
{"w":160,"d":0,"v":11},{"w":160,"d":1,"v":18},{"w":160,"d":2,"v":20},{"w":160,"d":3,"v":19},{"w":160,"d":4,"v":22},{"w":160,"d":5,"v":20},{"w":160,"d":6,"v":9},
{"w":161,"d":0,"v":6},{"w":161,"d":1,"v":24},{"w":161,"d":2,"v":19},{"w":161,"d":3,"v":20},{"w":161,"d":4,"v":18},{"w":161,"d":5,"v":22},{"w":161,"d":6,"v":10},
{"w":162,"d":0,"v":6},{"w":162,"d":1,"v":25},{"w":162,"d":2,"v":22},{"w":162,"d":3,"v":24},{"w":162,"d":4,"v":25},{"w":162,"d":5,"v":25},{"w":162,"d":6,"v":9},
{"w":163,"d":0,"v":5},{"w":163,"d":1,"v":19},{"w":163,"d":2,"v":27},{"w":163,"d":3,"v":25},{"w":163,"d":4,"v":24},{"w":163,"d":5,"v":20},{"w":163,"d":6,"v":10},
{"w":164,"d":0,"v":6},{"w":164,"d":1,"v":24},{"w":164,"d":2,"v":20},{"w":164,"d":3,"v":19},{"w":164,"d":4,"v":21},{"w":164,"d":5,"v":18},{"w":164,"d":6,"v":9},
{"w":165,"d":0,"v":7},{"w":165,"d":1,"v":20},{"w":165,"d":2,"v":23},{"w":165,"d":3,"v":18},{"w":165,"d":4,"v":25},{"w":165,"d":5,"v":20},{"w":165,"d":6,"v":8},
{"w":166,"d":0,"v":6},{"w":166,"d":1,"v":21},{"w":166,"d":2,"v":19},{"w":166,"d":3,"v":25},{"w":166,"d":4,"v":20},{"w":166,"d":5,"v":22},{"w":166,"d":6,"v":8},
{"w":167,"d":0,"v":5},{"w":167,"d":1,"v":18},{"w":167,"d":2,"v":24},{"w":167,"d":3,"v":20},{"w":167,"d":4,"v":18},{"w":167,"d":5,"v":19},{"w":167,"d":6,"v":8},
{"w":168,"d":0,"v":6},{"w":168,"d":1,"v":24},{"w":168,"d":2,"v":17},{"w":168,"d":3,"v":22},{"w":168,"d":4,"v":19},{"w":168,"d":5,"v":16},{"w":168,"d":6,"v":7},
{"w":169,"d":0,"v":5},{"w":169,"d":1,"v":17},{"w":169,"d":2,"v":20},{"w":169,"d":3,"v":16},{"w":169,"d":4,"v":18},{"w":169,"d":5,"v":17},{"w":169,"d":6,"v":8},
{"w":170,"d":0,"v":6},{"w":170,"d":1,"v":16},{"w":170,"d":2,"v":15},{"w":170,"d":3,"v":18},{"w":170,"d":4,"v":16},{"w":170,"d":5,"v":19},{"w":170,"d":6,"v":8},
{"w":171,"d":0,"v":6},{"w":171,"d":1,"v":15},{"w":171,"d":2,"v":17},{"w":171,"d":3,"v":15},{"w":171,"d":4,"v":20},{"w":171,"d":5,"v":17},{"w":171,"d":6,"v":7},
{"w":172,"d":0,"v":5},{"w":172,"d":1,"v":18},{"w":172,"d":2,"v":19},{"w":172,"d":3,"v":22},{"w":172,"d":4,"v":18},{"w":172,"d":5,"v":16},{"w":172,"d":6,"v":8},
{"w":173,"d":0,"v":7},{"w":173,"d":1,"v":17},{"w":173,"d":2,"v":21},{"w":173,"d":3,"v":20},{"w":173,"d":4,"v":17},{"w":173,"d":5,"v":18},{"w":173,"d":6,"v":7},
{"w":174,"d":0,"v":6},{"w":174,"d":1,"v":22},{"w":174,"d":2,"v":18},{"w":174,"d":3,"v":19},{"w":174,"d":4,"v":23},{"w":174,"d":5,"v":17},{"w":174,"d":6,"v":8},
{"w":175,"d":0,"v":5},{"w":175,"d":1,"v":23},{"w":175,"d":2,"v":19},{"w":175,"d":3,"v":24},{"w":175,"d":4,"v":20},{"w":175,"d":5,"v":16},{"w":175,"d":6,"v":7},
{"w":176,"d":0,"v":6},{"w":176,"d":1,"v":17},{"w":176,"d":2,"v":24},{"w":176,"d":3,"v":25},{"w":176,"d":4,"v":19},{"w":176,"d":5,"v":18},{"w":176,"d":6,"v":8},
{"w":177,"d":0,"v":7},{"w":177,"d":1,"v":20},{"w":177,"d":2,"v":18},{"w":177,"d":3,"v":21},{"w":177,"d":4,"v":23},{"w":177,"d":5,"v":17},{"w":177,"d":6,"v":7},
{"w":178,"d":0,"v":5},{"w":178,"d":1,"v":25},{"w":178,"d":2,"v":24},{"w":178,"d":3,"v":19},{"w":178,"d":4,"v":20},{"w":178,"d":5,"v":25},{"w":178,"d":6,"v":8},
{"w":179,"d":0,"v":6},{"w":179,"d":1,"v":24},{"w":179,"d":2,"v":20},{"w":179,"d":3,"v":24},{"w":179,"d":4,"v":26},{"w":179,"d":5,"v":24},{"w":179,"d":6,"v":7},
{"w":180,"d":0,"v":7},{"w":180,"d":1,"v":19},{"w":180,"d":2,"v":26},{"w":180,"d":3,"v":20},{"w":180,"d":4,"v":21},{"w":180,"d":5,"v":18},{"w":180,"d":6,"v":8},
{"w":181,"d":0,"v":6},{"w":181,"d":1,"v":27},{"w":181,"d":2,"v":25},{"w":181,"d":3,"v":26},{"w":181,"d":4,"v":24},{"w":181,"d":5,"v":25},{"w":181,"d":6,"v":9},
{"w":182,"d":0,"v":6},{"w":182,"d":1,"v":20},{"w":182,"d":2,"v":22},{"w":182,"d":3,"v":19},{"w":182,"d":4,"v":21},{"w":182,"d":5,"v":24},{"w":182,"d":6,"v":8},
{"w":183,"d":0,"v":7},{"w":183,"d":1,"v":22},{"w":183,"d":2,"v":20},{"w":183,"d":3,"v":23},{"w":183,"d":4,"v":19},{"w":183,"d":5,"v":21},{"w":183,"d":6,"v":8},
{"w":184,"d":0,"v":6},{"w":184,"d":1,"v":20},{"w":184,"d":2,"v":24},{"w":184,"d":3,"v":21},{"w":184,"d":4,"v":23},{"w":184,"d":5,"v":26},{"w":184,"d":6,"v":9},
{"w":185,"d":0,"v":7},{"w":185,"d":1,"v":25},{"w":185,"d":2,"v":22},{"w":185,"d":3,"v":24},{"w":185,"d":4,"v":22},{"w":185,"d":5,"v":24},{"w":185,"d":6,"v":8},
{"w":186,"d":0,"v":8},{"w":186,"d":1,"v":23},{"w":186,"d":2,"v":26},{"w":186,"d":3,"v":22},{"w":186,"d":4,"v":25},{"w":186,"d":5,"v":22},{"w":186,"d":6,"v":9},
{"w":187,"d":0,"v":7},{"w":187,"d":1,"v":27},{"w":187,"d":2,"v":24},{"w":187,"d":3,"v":28},{"w":187,"d":4,"v":24},{"w":187,"d":5,"v":26},{"w":187,"d":6,"v":9},
{"w":188,"d":0,"v":8},{"w":188,"d":1,"v":25},{"w":188,"d":2,"v":28},{"w":188,"d":3,"v":25},{"w":188,"d":4,"v":27},{"w":188,"d":5,"v":25},{"w":188,"d":6,"v":10},
{"w":189,"d":0,"v":9},{"w":189,"d":1,"v":30},{"w":189,"d":2,"v":26},{"w":189,"d":3,"v":29},{"w":189,"d":4,"v":26},{"w":189,"d":5,"v":28},{"w":189,"d":6,"v":11},
{"w":190,"d":0,"v":8},{"w":190,"d":1,"v":33},{"w":190,"d":2,"v":36},{"w":190,"d":3,"v":33},{"w":190,"d":4,"v":28},{"w":190,"d":5,"v":26},{"w":190,"d":6,"v":10},
{"w":191,"d":0,"v":9},{"w":191,"d":1,"v":28},{"w":191,"d":2,"v":34},{"w":191,"d":3,"v":30},{"w":191,"d":4,"v":29},{"w":191,"d":5,"v":30},{"w":191,"d":6,"v":12},
{"w":192,"d":0,"v":10},{"w":192,"d":1,"v":30},{"w":192,"d":2,"v":27},{"w":192,"d":3,"v":28},{"w":192,"d":4,"v":30},{"w":192,"d":5,"v":32},{"w":192,"d":6,"v":11},
{"w":193,"d":0,"v":7},{"w":193,"d":1,"v":27},{"w":193,"d":2,"v":30},{"w":193,"d":3,"v":31},{"w":193,"d":4,"v":28},{"w":193,"d":5,"v":29},{"w":193,"d":6,"v":10},
{"w":194,"d":0,"v":8},{"w":194,"d":1,"v":20},{"w":194,"d":2,"v":32},{"w":194,"d":3,"v":28},{"w":194,"d":4,"v":27},{"w":194,"d":5,"v":26},{"w":194,"d":6,"v":9},
{"w":195,"d":0,"v":4},{"w":195,"d":1,"v":26},{"w":195,"d":2,"v":24},{"w":195,"d":3,"v":22},{"w":195,"d":4,"v":24},{"w":195,"d":5,"v":24},{"w":195,"d":6,"v":8},
{"w":196,"d":0,"v":6},{"w":196,"d":1,"v":23},{"w":196,"d":2,"v":24},{"w":196,"d":3,"v":30},{"w":196,"d":4,"v":38},{"w":196,"d":5,"v":33},{"w":196,"d":6,"v":15},
{"w":197,"d":0,"v":9},{"w":197,"d":1,"v":35},{"w":197,"d":2,"v":27},{"w":197,"d":3,"v":30},{"w":197,"d":4,"v":31},{"w":197,"d":5,"v":38},{"w":197,"d":6,"v":14},
{"w":198,"d":0,"v":10},{"w":198,"d":1,"v":36},{"w":198,"d":2,"v":32},{"w":198,"d":3,"v":25},{"w":198,"d":4,"v":37},{"w":198,"d":5,"v":28},{"w":198,"d":6,"v":8},
{"w":199,"d":0,"v":12},{"w":199,"d":1,"v":40},{"w":199,"d":2,"v":37},{"w":199,"d":3,"v":32},{"w":199,"d":4,"v":38},{"w":199,"d":5,"v":28},{"w":199,"d":6,"v":14},
{"w":200,"d":0,"v":11},{"w":200,"d":1,"v":38},{"w":200,"d":2,"v":34},{"w":200,"d":3,"v":40},{"w":200,"d":4,"v":30},{"w":200,"d":5,"v":33},{"w":200,"d":6,"v":13},
{"w":201,"d":0,"v":10},{"w":201,"d":1,"v":34},{"w":201,"d":2,"v":37},{"w":201,"d":3,"v":34},{"w":201,"d":4,"v":35},{"w":201,"d":5,"v":29},{"w":201,"d":6,"v":12},
{"w":202,"d":0,"v":10},{"w":202,"d":1,"v":36},{"w":202,"d":2,"v":40},{"w":202,"d":3,"v":33},{"w":202,"d":4,"v":28},{"w":202,"d":5,"v":32},{"w":202,"d":6,"v":13},
{"w":203,"d":0,"v":9},{"w":203,"d":1,"v":35},{"w":203,"d":2,"v":38},{"w":203,"d":3,"v":31},{"w":203,"d":4,"v":34},{"w":203,"d":5,"v":31},{"w":203,"d":6,"v":12},
{"w":204,"d":0,"v":46},{"w":204,"d":1,"v":78},{"w":204,"d":2,"v":90},{"w":204,"d":3,"v":100},{"w":204,"d":4,"v":98},{"w":204,"d":5,"v":98},{"w":204,"d":6,"v":50},
{"w":205,"d":0,"v":12},{"w":205,"d":1,"v":34},{"w":205,"d":2,"v":36},{"w":205,"d":3,"v":27},{"w":205,"d":4,"v":30},{"w":205,"d":5,"v":31},{"w":205,"d":6,"v":11},
{"w":206,"d":0,"v":10},{"w":206,"d":1,"v":35},{"w":206,"d":2,"v":33},{"w":206,"d":3,"v":30},{"w":206,"d":4,"v":37},{"w":206,"d":5,"v":33},{"w":206,"d":6,"v":12},
{"w":207,"d":0,"v":12},{"w":207,"d":1,"v":37},{"w":207,"d":2,"v":33},{"w":207,"d":3,"v":25},{"w":207,"d":4,"v":27},{"w":207,"d":5,"v":26},{"w":207,"d":6,"v":13},
{"w":208,"d":0,"v":12},{"w":208,"d":1,"v":38},{"w":208,"d":2,"v":4},{"w":208,"d":3,"v":4},{"w":208,"d":4,"v":4},{"w":208,"d":5,"v":4},{"w":208,"d":6,"v":2},
{"w":209,"d":0,"v":10},{"w":209,"d":1,"v":33},{"w":209,"d":2,"v":51},{"w":209,"d":3,"v":52}
]},
"transform":[{"calculate":"[0,1,2]","as":"sub"},{"flatten":["sub"]},{"calculate":"-6.1+6.9*datum.w+2.3*datum.sub-0.1","as":"t1"},{"calculate":"datum.t1+2.5","as":"t2"},{"calculate":"64.5+datum.t1*181.2/360+22.1*datum.d","as":"r1"},{"calculate":"64.5+datum.t2*181.2/360+22.1*datum.d","as":"r2"},{"calculate":"datum.r1*sin(datum.t1*PI/180)","as":"x1"},{"calculate":"-datum.r1*cos(datum.t1*PI/180)","as":"y1"},{"calculate":"datum.r2*sin(datum.t2*PI/180)","as":"x2"},{"calculate":"-datum.r2*cos(datum.t2*PI/180)","as":"y2"}],
"mark":{"type":"rule","strokeWidth":20.8,"strokeCap":"butt"},
"encoding":{"x":{"field":"x1","type":"quantitative","scale":{"domain":[-1130,1130],"range":[0,2260]},"axis":null},"y":{"field":"y1","type":"quantitative","scale":{"domain":[-1130,1226],"range":[0,2356]},"axis":null},"x2":{"field":"x2"},"y2":{"field":"y2"},"color":{"field":"v","type":"quantitative","scale":{"scheme":"viridis","domain":[0,100]},"legend":null}}},
{"data":{"values":[{"a":0},{"a":30},{"a":60},{"a":90},{"a":120},{"a":150},{"a":180},{"a":210},{"a":240},{"a":270},{"a":300},{"a":330}]},
"transform":[{"calculate":"40*sin(datum.a*PI/180)","as":"x1"},{"calculate":"-40*cos(datum.a*PI/180)","as":"y1"},{"calculate":"940*sin(datum.a*PI/180)","as":"x2"},{"calculate":"-940*cos(datum.a*PI/180)","as":"y2"}],
"mark":{"type":"rule","stroke":"#6a70b0","strokeWidth":1,"opacity":0.2,"strokeDash":[2,2]},
"encoding":{"x":{"field":"x1","type":"quantitative","scale":{"domain":[-1130,1130],"range":[0,2260]},"axis":null},"y":{"field":"y1","type":"quantitative","scale":{"domain":[-1130,1226],"range":[0,2356]},"axis":null},"x2":{"field":"x2"},"y2":{"field":"y2"}}},
{"data":{"values":[{"m":"Jan","i":0},{"m":"Feb","i":1},{"m":"Mar","i":2},{"m":"Apr","i":3},{"m":"May","i":4},{"m":"Jun","i":5},{"m":"Jul","i":6},{"m":"Aug","i":7},{"m":"Sep","i":8},{"m":"Oct","i":9},{"m":"Nov","i":10},{"m":"Dec","i":11}]},
"transform":[{"calculate":"1015*sin((15+30*datum.i)*PI/180)","as":"x"},{"calculate":"-1015*cos((15+30*datum.i)*PI/180)","as":"y"}],
"mark":{"type":"text","font":"Inter","fontSize":22,"fill":"#a8aab0","align":"center","baseline":"middle"},
"encoding":{"x":{"field":"x","type":"quantitative","scale":{"domain":[-1130,1130],"range":[0,2260]},"axis":null},"y":{"field":"y","type":"quantitative","scale":{"domain":[-1130,1226],"range":[0,2356]},"axis":null},"text":{"field":"m"}}},
{"data":{"values":[{"year":"2022","i":0},{"year":"2023","i":1},{"year":"2024","i":2},{"year":"2025","i":3}]},
"transform":[{"calculate":"(136+182*datum.i)*sin(13.6*PI/180)","as":"x"},{"calculate":"-(136+182*datum.i)*cos(13.6*PI/180)","as":"y"}],
"layer":[{"mark":{"type":"text","font":"DejaVu Sans Mono","fontWeight":"bold","fontSize":22,"stroke":"#1a1c28","strokeWidth":5,"strokeJoin":"round","align":"center","baseline":"middle"}},{"mark":{"type":"text","font":"DejaVu Sans Mono","fontWeight":"bold","fontSize":22,"fill":"#b8b8be","align":"center","baseline":"middle"}}],
"encoding":{"x":{"field":"x","type":"quantitative","scale":{"domain":[-1130,1130],"range":[0,2260]},"axis":null},"y":{"field":"y","type":"quantitative","scale":{"domain":[-1130,1226],"range":[0,2356]},"axis":null},"text":{"field":"year"}}},
{"data":{"values":[{"t":"SAMPLE DATA"}]},"mark":{"type":"text","x":108,"y":117,"font":"DejaVu Sans Mono","fontWeight":"bold","fontSize":22,"fill":"#737873","align":"left","baseline":"middle"},"encoding":{"text":{"field":"t"}}},
{"data":{"values":[{"t":"DATA HIT"}]},"mark":{"type":"text","x":1941,"y":2249,"font":"Inter","fontSize":50,"fill":"#0f66fa","align":"left","baseline":"middle"},"encoding":{"text":{"field":"t"}}},
{"data":{"values":[{"t":"logo"}]},"mark":{"type":"point","x":1893,"y":2250,"size":4,"filled":true,"opacity":1,"fill":"#0f66fa","stroke":null,"shape":"M-32 9 L-21.5 -1.5 L-11 9 L-21.5 19.5 Z M-21 -2.5 L-11 -12.5 L-1 -2.5 L-11 7.5 Z M-10 9 L0 -1 L10 9 L0 19 Z M1 -2 L11 -12 L21 -2 L11 8 Z M11.5 -13 L22 -23.5 L32.5 -13 L22 -2.5 Z"},"encoding":{}}
]}
